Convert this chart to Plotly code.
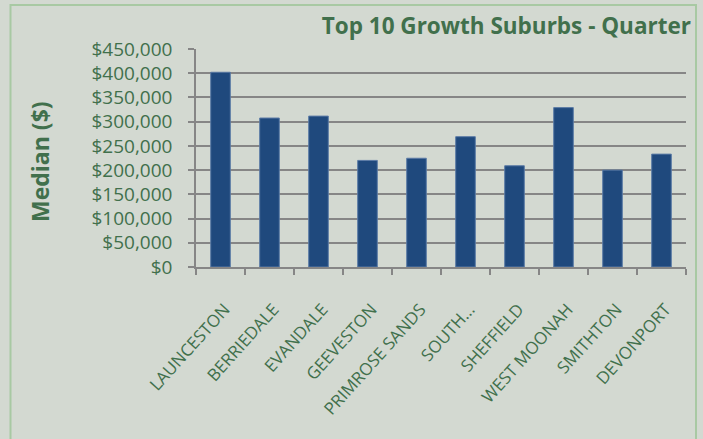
import plotly.graph_objects as go

suburbs = ["LAUNCESTON", "BERRIEDALE", "EVANDALE", "GEEVESTON", "PRIMROSE SANDS",
           "SOUTH...", "SHEFFIELD", "WEST MOONAH", "SMITHTON", "DEVONPORT"]
median_price = [402000, 307500, 311500, 220000, 224500, 269000, 209000, 329000, 200000, 233000]
y_ticks = [0, 50000, 100000, 150000, 200000, 250000, 300000, 350000, 400000, 450000]

W, H = 703, 439
L, R, T, B = 196, 686, 49, 267
GREEN = "#41704c"
BG = "#d3d9d1"


def px_x(p):
    return (p - L) / (R - L)


def px_y(p):
    return (B - p) / (B - T)


fig = go.Figure(go.Bar(
    x=suburbs,
    y=median_price,
    marker=dict(color="#1f497d", line=dict(color="#5b7ba6", width=1)),
))

fig.update_layout(
    width=W, height=H,
    margin=dict(l=L, r=W - R, t=T, b=H - B, autoexpand=False),
    paper_bgcolor=BG, plot_bgcolor=BG,
    bargap=0.6,
    showlegend=False,
    font=dict(family="Open Sans", color=GREEN),
    title=dict(text="<b>Top 10 Growth Suburbs - Quarter</b>",
               xref="container", yref="container",
               x=691 / W, xanchor="right", y=1 - 26 / H, yanchor="middle",
               font=dict(size=22.5, color=GREEN, family="Open Sans")),
    xaxis=dict(
        type="category", tickangle=-48, tickfont=dict(size=17, color=GREEN),
        ticklabelstandoff=24, ticklabelshift=4,
        ticks="outside", ticklen=6, tickcolor="#868686", tickwidth=1.5,
        tickson="boundaries", showline=True, linecolor="#868686", linewidth=1.5,
        showgrid=False,
    ),
    yaxis=dict(
        range=[0, 450000], tickvals=y_ticks,
        ticktext=["${:,}".format(v) for v in y_ticks],
        tickfont=dict(size=19, color=GREEN),
        ticklabelstandoff=12,
        ticks="outside", ticklen=6, tickcolor="#868686", tickwidth=1.5,
        showline=True, linecolor="#868686", linewidth=1.5,
        showgrid=True, gridcolor="#868686", gridwidth=1.5,
        zeroline=False,
    ),
    annotations=[dict(
        text="<b>Median ($)</b>", textangle=-90,
        xref="paper", yref="paper", x=px_x(40), y=px_y(162),
        xanchor="center", yanchor="middle", showarrow=False,
        font=dict(size=23, color=GREEN, family="Open Sans"),
    )],
    shapes=[dict(
        type="rect", xref="paper", yref="paper",
        x0=px_x(10.5), x1=px_x(696), y0=px_y(450), y1=px_y(5),
        line=dict(color="#a8c9a3", width=2), layer="below",
    )],
)

fig.write_html("out.html")
